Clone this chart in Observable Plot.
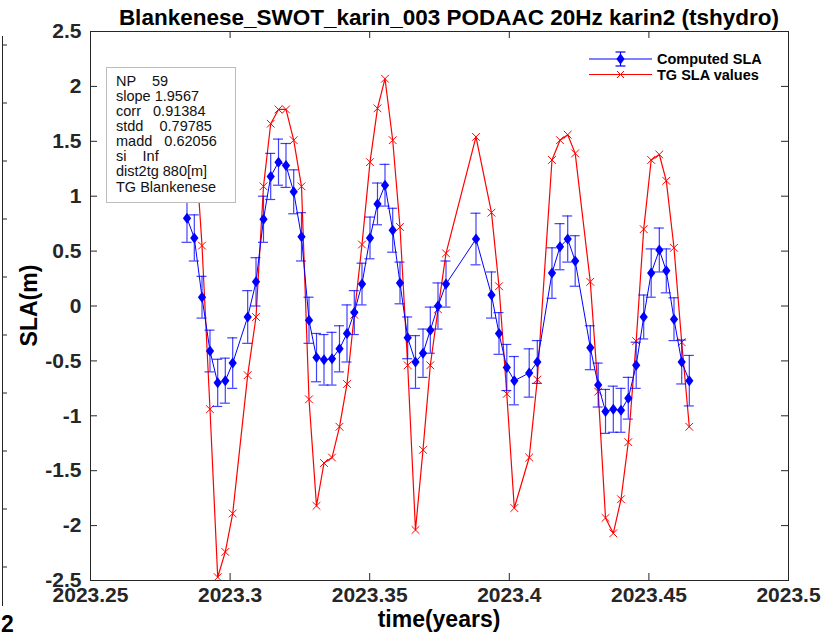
<!DOCTYPE html>
<html>
<head>
<meta charset="utf-8">
<script src="https://cdn.jsdelivr.net/npm/d3@7"></script>
<script src="https://cdn.jsdelivr.net/npm/@observablehq/plot@0.6"></script>
<style>
  html, body { margin: 0; padding: 0; background: #fff; }
  #chart { position: relative; width: 825px; height: 634px; overflow: hidden; }
</style>
</head>
<body>
<div id="chart"></div>
<script>
// Sample times (decimal years) shared by both series
const times = [
  2023.28456, 2023.28718, 2023.28994, 2023.29280, 2023.29556, 2023.29828, 2023.30093,
  2023.30630, 2023.30928, 2023.31196, 2023.31454, 2023.31734, 2023.32002, 2023.32278,
  2023.32557, 2023.32826, 2023.33095, 2023.33363, 2023.33650, 2023.33918, 2023.34187,
  2023.34448, 2023.34724, 2023.35011, 2023.35279, 2023.35548, 2023.35824, 2023.36085,
  2023.36361, 2023.36640, 2023.36909, 2023.37171, 2023.37446, 2023.37733, 2023.38807,
  2023.39362, 2023.39631, 2023.39910, 2023.40179, 2023.40713, 2023.41003, 2023.41529,
  2023.41816, 2023.42092, 2023.42360, 2023.42901, 2023.43184, 2023.43446, 2023.43725,
  2023.44001, 2023.44262, 2023.44545, 2023.44814, 2023.45082, 2023.45373, 2023.45623,
  2023.45899, 2023.46175, 2023.46447
];

// Computed SLA (m) from altimetry and its uncertainty
const computedSLA = [
  0.80, 0.62, 0.08, -0.41, -0.70, -0.68, -0.52, -0.10, 0.22, 0.79,
  1.18, 1.31, 1.28, 1.04, 0.63, -0.13, -0.47, -0.49, -0.48, -0.39,
  -0.25, -0.06, 0.20, 0.62, 0.93, 1.10, 0.69, 0.21, -0.29, -0.51,
  -0.43, -0.22, 0.00, 0.20, 0.61, 0.10, -0.25, -0.56, -0.68, -0.61,
  -0.51, 0.30, 0.54, 0.61, 0.41, -0.38, -0.72, -0.96, -0.94, -0.95,
  -0.84, -0.54, -0.10, 0.30, 0.51, 0.32, -0.12, -0.51, -0.68
];
const computedErr = [
  0.22, 0.21, 0.19, 0.19, 0.215, 0.205, 0.23, 0.24, 0.22, 0.21,
  0.21, 0.21, 0.20, 0.20, 0.22, 0.21, 0.22, 0.23, 0.24, 0.21,
  0.26, 0.20, 0.19, 0.19, 0.19, 0.19, 0.20, 0.19, 0.19, 0.24,
  0.22, 0.21, 0.21, 0.21, 0.235, 0.21, 0.19, 0.21, 0.22, 0.22,
  0.195, 0.23, 0.21, 0.21, 0.23, 0.20, 0.20, 0.20, 0.21, 0.20,
  0.19, 0.21, 0.20, 0.22, 0.20, 0.20, 0.195, 0.20, 0.23
];

// Tide gauge SLA (m) at the same times
const tgSLA = [
  1.30, 1.61, 0.55, -0.94, -2.47, -2.24, -1.89, -0.63, -0.10, 1.09,
  1.66, 1.79, 1.79, 1.51, 1.09, -0.85, -1.82, -1.43, -1.38, -1.10,
  -0.71, -0.08, 0.56, 1.31, 1.80, 2.07, 1.51, 0.72, -0.54, -2.04,
  -1.31, -0.54, -0.03, 0.48, 1.54, 0.85, 0.18, -0.80, -1.84, -1.38,
  -0.67, 1.33, 1.51, 1.56, 1.39, 0.22, -0.78, -1.93, -2.07, -1.76,
  -1.24, -0.32, 0.70, 1.33, 1.38, 1.14, 0.53, -0.33, -1.10
];

const xTicks = [2023.25, 2023.3, 2023.35, 2023.4, 2023.45, 2023.5];
const xTickLabels = ["2023.25", "2023.3", "2023.35", "2023.4", "2023.45", "2023.5"];
const yTicks = [-2.5, -2, -1.5, -1, -0.5, 0, 0.5, 1, 1.5, 2, 2.5];
const yTickLabels = ["-2.5", "-2", "-1.5", "-1", "-0.5", "0", "0.5", "1", "1.5", "2", "2.5"];

const titleText = "Blankenese_SWOT_karin_003 PODAAC 20Hz karin2 (tshydro)";
const xLabel = "time(years)";
const yLabel = "SLA(m)";
const legendLabels = ["Computed SLA", "TG SLA values"];
const statLines = [
  "NP    59",
  "slope 1.9567",
  "corr   0.91384",
  "stdd    0.79785",
  "madd   0.62056",
  "si    Inf",
  "dist2tg 880[m]",
  "TG Blankenese"
];

// ---- layout ----
const W = 825, H = 634;
const mL = 90, mR = 37, mT = 31, mB = 54;
const xDomain = [2023.25, 2023.5], yDomain = [-2.5, 2.5];
const yrPerPx = (xDomain[1] - xDomain[0]) / (W - mL - mR);
const mPerPx = (yDomain[1] - yDomain[0]) / (H - mT - mB);
const TICK = 7, CAP = 5;
const FONT = "'Liberation Sans', Arial, Helvetica, sans-serif";
const BLUE = "#0000ff", RED = "#ff0000", AXIS = "#262626";

const rows = times.map((t, i) => ({t, v: computedSLA[i], e: computedErr[i], g: tgSLA[i]}));

// MATLAB-style diamond, taller than wide
const diamond = {
  draw(ctx, size) {
    const r = Math.sqrt(size / Math.PI), w = r * 0.75;
    ctx.moveTo(0, -r); ctx.lineTo(w, 0); ctx.lineTo(0, r); ctx.lineTo(-w, 0); ctx.closePath();
  }
};

const plot = Plot.plot({
  width: W, height: H,
  marginLeft: mL, marginRight: mR, marginTop: mT, marginBottom: mB,
  style: {fontFamily: FONT, background: "white", color: AXIS, overflow: "visible"},
  x: {domain: xDomain},
  y: {domain: yDomain},
  marks: [
    Plot.axisX(xTicks, {tickSize: 0, tickPadding: 7, fontSize: 21, fontWeight: "bold",
      tickFormat: d => xTickLabels[xTicks.indexOf(d)], label: null}),
    Plot.axisY(yTicks, {tickSize: 0, tickPadding: 9, fontSize: 21, fontWeight: "bold",
      tickFormat: d => yTickLabels[yTicks.indexOf(d)], label: null}),
    // inward ticks on all four sides
    Plot.ruleX(xTicks, {x: d => d, y1: yDomain[0], y2: yDomain[0] + TICK * mPerPx, stroke: AXIS}),
    Plot.ruleX(xTicks, {x: d => d, y1: yDomain[1], y2: yDomain[1] - TICK * mPerPx, stroke: AXIS}),
    Plot.ruleY(yTicks, {y: d => d, x1: xDomain[0], x2: xDomain[0] + TICK * yrPerPx, stroke: AXIS}),
    Plot.ruleY(yTicks, {y: d => d, x1: xDomain[1], x2: xDomain[1] - TICK * yrPerPx, stroke: AXIS}),
    // tide gauge series
    Plot.line(rows, {x: "t", y: "g", stroke: RED, strokeWidth: 1.2}),
    Plot.dot(rows, {x: "t", y: "g", symbol: "times", r: 3.6, stroke: RED, strokeWidth: 1}),
    // computed SLA with error bars
    Plot.ruleX(rows, {x: "t", y1: d => d.v - d.e, y2: d => d.v + d.e, stroke: BLUE, strokeOpacity: 0.75, strokeWidth: 1.2}),
    Plot.ruleY(rows, {y: d => d.v - d.e, x1: d => d.t - CAP * yrPerPx, x2: d => d.t + CAP * yrPerPx, stroke: BLUE, strokeOpacity: 0.75, strokeWidth: 1.2}),
    Plot.ruleY(rows, {y: d => d.v + d.e, x1: d => d.t - CAP * yrPerPx, x2: d => d.t + CAP * yrPerPx, stroke: BLUE, strokeOpacity: 0.75, strokeWidth: 1.2}),
    Plot.line(rows, {x: "t", y: "v", stroke: BLUE, strokeWidth: 1}),
    Plot.dot(rows, {x: "t", y: "v", symbol: diamond, r: 5.5, fill: BLUE}),
    Plot.frame({stroke: AXIS, strokeWidth: 1})
  ]
});

document.getElementById("chart").appendChild(plot);

// ---- annotations: title, axis labels, stats box, legend ----
const svg = d3.select(plot);
const g = svg.append("g").attr("font-family", FONT).attr("fill", AXIS).attr("text-anchor", "start");

g.append("text").attr("x", 449).attr("y", 25).attr("text-anchor", "middle")
  .attr("font-size", 22.5).attr("font-weight", "bold").attr("fill", "#000").text(titleText);
g.append("text").attr("x", (mL + W - mR) / 2).attr("y", 627).attr("text-anchor", "middle")
  .attr("font-size", 23).attr("font-weight", "bold").attr("fill", "#000").text(xLabel);
g.append("text").attr("transform", `translate(37,${(mT + H - mB) / 2}) rotate(-90)`)
  .attr("text-anchor", "middle").attr("font-size", 23).attr("font-weight", "bold")
  .attr("fill", "#000").text(yLabel);

// statistics box
g.append("rect").attr("x", 106.5).attr("y", 67.5).attr("width", 129).attr("height", 135)
  .attr("fill", "white").attr("stroke", "#bdbdbd").attr("stroke-width", 1);
const stats = g.append("g").attr("font-size", 14.5).attr("fill", "#111").attr("text-anchor", "start");
statLines.forEach((s, i) => {
  stats.append("text").attr("x", 116).attr("y", 85.5 + i * 15.15).attr("text-anchor", "start")
    .attr("xml:space", "preserve").style("white-space", "pre").text(s);
});

// legend
const leg = g.append("g");
const lx0 = 589, lx1 = 652, lmid = (lx0 + lx1) / 2;
const ly = [59, 74.5];
leg.append("line").attr("x1", lx0).attr("x2", lx1).attr("y1", ly[0]).attr("y2", ly[0])
  .attr("stroke", BLUE).attr("stroke-width", 1);
leg.append("line").attr("x1", lmid).attr("x2", lmid).attr("y1", ly[0] - 7).attr("y2", ly[0] + 7)
  .attr("stroke", BLUE).attr("stroke-width", 1.2);
[ly[0] - 7, ly[0] + 7].forEach(y => leg.append("line").attr("x1", lmid - 5).attr("x2", lmid + 5)
  .attr("y1", y).attr("y2", y).attr("stroke", BLUE).attr("stroke-width", 1.2));
leg.append("path").attr("transform", `translate(${lmid},${ly[0]})`)
  .attr("d", "M0,-5.5L4.1,0L0,5.5L-4.1,0Z").attr("fill", BLUE);
leg.append("line").attr("x1", lx0).attr("x2", lx1).attr("y1", ly[1]).attr("y2", ly[1])
  .attr("stroke", RED).attr("stroke-width", 1.2);
leg.append("path").attr("transform", `translate(${lmid},${ly[1]})`)
  .attr("d", "M-3.5,-3.5L3.5,3.5M-3.5,3.5L3.5,-3.5").attr("stroke", RED).attr("fill", "none");
legendLabels.forEach((s, i) => {
  leg.append("text").attr("x", 657).attr("y", ly[i] + 5).attr("font-size", 14.5)
    .attr("text-anchor", "start").attr("font-weight", "bold").attr("fill", "#000").text(s);
});

// edge of a neighbouring axes at the far left
const edge = g.append("g").attr("stroke", AXIS);
edge.append("line").attr("x1", 2.5).attr("x2", 2.5).attr("y1", 36).attr("y2", 606);
d3.range(10).forEach(i => edge.append("line").attr("x1", 2.5).attr("x2", 7)
  .attr("y1", 45 + i * 58).attr("y2", 45 + i * 58));
g.append("text").attr("x", 1).attr("y", 632).attr("font-size", 23).attr("font-weight", "bold")
  .attr("text-anchor", "start").attr("fill", "#000").text("2");
</script>
</body>
</html>
